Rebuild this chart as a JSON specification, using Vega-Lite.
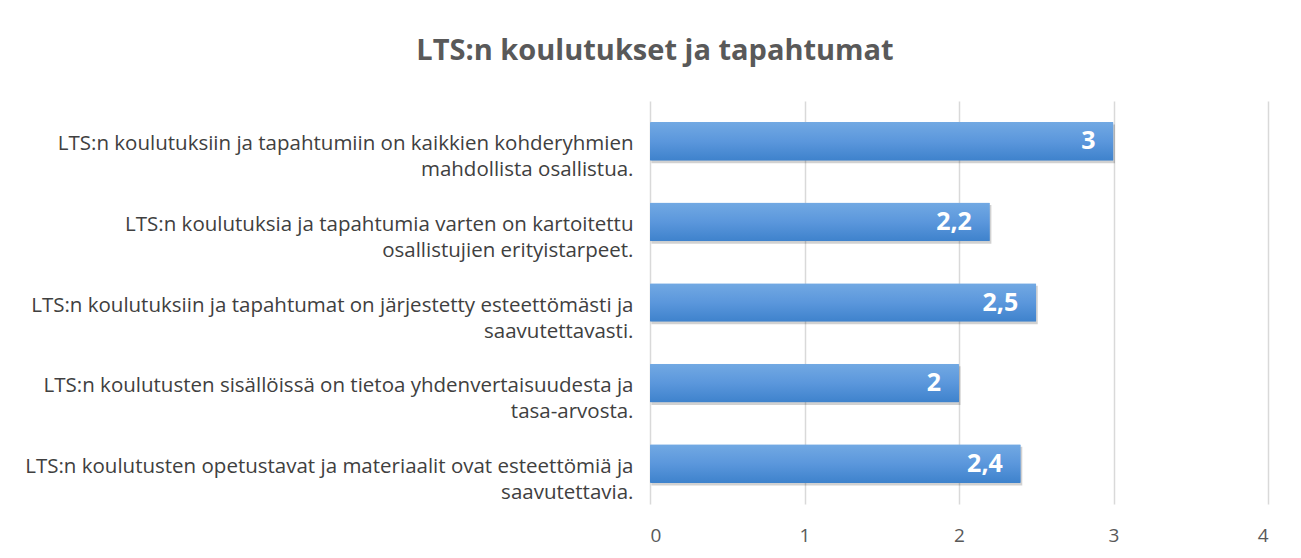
{
  "$schema": "https://vega.github.io/schema/vega-lite/v6.json",
  "width": 618,
  "height": 403,
  "autosize": {"type": "none"},
  "padding": {"left": 650, "top": 101, "right": 33, "bottom": 54},
  "background": "white",
  "config": {
    "view": {"stroke": null},
    "font": "Open Sans",
    "locale": {"number": {"decimal": ",", "thousands": " ", "grouping": [3], "currency": ["", " €"]}}
  },
  "title": {
    "text": "LTS:n koulutukset ja tapahtumat",
    "anchor": "middle",
    "frame": "group",
    "dx": -304,
    "offset": 35,
    "fontSize": 29,
    "fontWeight": "bold",
    "color": "#595959",
    "font": "Open Sans"
  },
  "data": {
    "values": [
      {"kysymys": "LTS:n koulutuksiin ja tapahtumiin on kaikkien kohderyhmien|mahdollista osallistua.", "arvo": 3},
      {"kysymys": "LTS:n koulutuksia ja tapahtumia varten on kartoitettu|osallistujien erityistarpeet.", "arvo": 2.2},
      {"kysymys": "LTS:n koulutuksiin ja tapahtumat on järjestetty esteettömästi ja|saavutettavasti.", "arvo": 2.5},
      {"kysymys": "LTS:n koulutusten sisällöissä on tietoa yhdenvertaisuudesta ja|tasa-arvosta.", "arvo": 2},
      {"kysymys": "LTS:n koulutusten opetustavat ja materiaalit ovat esteettömiä ja|saavutettavia.", "arvo": 2.4}
    ]
  },
  "encoding": {
    "y": {
      "field": "kysymys",
      "type": "nominal",
      "sort": null,
      "scale": {"paddingInner": 0.52, "paddingOuter": 0.26},
      "axis": {
        "title": null,
        "domain": false,
        "ticks": false,
        "labelExpr": "split(datum.label, '|')",
        "labelFontSize": 20.5,
        "labelColor": "#404040",
        "labelPadding": 17,
        "labelLineHeight": 26,
        "labelOffset": 3,
        "labelLimit": 700,
        "labelAlign": "right"
      }
    },
    "x": {
      "field": "arvo",
      "type": "quantitative",
      "scale": {"domain": [0, 4]},
      "axis": {
        "title": null,
        "domain": false,
        "ticks": false,
        "tickCount": 4,
        "grid": true,
        "gridColor": "#d9d9d9",
        "gridWidth": 1.5,
        "labelFontSize": 19,
        "labelColor": "#595959",
        "labelPadding": 22,
        "format": "d"
      }
    }
  },
  "layer": [
    {
      "mark": {
        "type": "bar",
        "color": "#000000",
        "opacity": 0.18,
        "xOffset": 1.5,
        "yOffset": 2.5
      }
    },
    {
      "mark": {
        "type": "bar",
        "color": {
          "gradient": "linear",
          "x1": 0, "y1": 0, "x2": 0, "y2": 1,
          "stops": [
            {"offset": 0, "color": "#72a9e3"},
            {"offset": 0.5, "color": "#5b97dc"},
            {"offset": 1, "color": "#3e82cc"}
          ]
        },
        "cornerRadius": 1
      }
    },
    {
      "mark": {
        "type": "text",
        "align": "right",
        "baseline": "middle",
        "dx": -18,
        "fontSize": 25,
        "fontWeight": "bold",
        "color": "white"
      },
      "encoding": {
        "text": {"field": "arvo", "type": "quantitative", "format": ".2~f"}
      }
    }
  ]
}
